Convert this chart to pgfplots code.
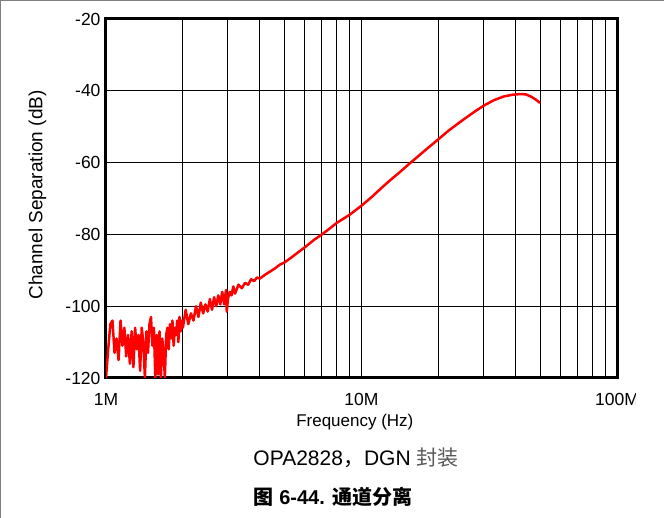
\documentclass[border=0pt]{standalone}
\usepackage{pgfplots}
\pgfplotsset{compat=1.18}
\usepackage{pgfplotstable}
\usepackage{fontspec}
\setmainfont{Liberation Sans}
\newfontfamily\cjk{Noto Sans CJK SC}
\pgfplotstableread{
f db
1.00 -120
1.02 -112
1.04 -105
1.06 -104
1.08 -113
1.10 -109
1.12 -115
1.14 -104
1.16 -111
1.18 -106
1.20 -114
1.22 -108
1.24 -116
1.26 -107
1.28 -117
1.30 -106
1.32 -112
1.34 -108
1.36 -118
1.38 -106
1.40 -110
1.42 -120
1.44 -107
1.46 -113
1.48 -105
1.50 -103
1.52 -111
1.54 -106
1.56 -120
1.58 -108
1.60 -119
1.62 -107
1.64 -120
1.66 -109
1.68 -113
1.70 -120
1.72 -108
1.74 -106
1.76 -112
1.78 -105
1.80 -109
1.82 -104
1.84 -111
1.86 -106
1.88 -108
1.90 -104
1.92 -110
1.94 -103
1.96 -107
1.98 -104
2.00 -106
2.05 -101
2.10 -105
2.15 -102
2.20 -104
2.25 -100
2.30 -103
2.35 -99
2.40 -102
2.45 -99.5
2.50 -101.5
2.55 -98
2.60 -101
2.65 -97.5
2.70 -100
2.75 -97
2.80 -99.5
2.85 -96
2.90 -99.5
2.95 -95.5
2.97 -101.5
3.00 -98
3.05 -96
3.10 -97
3.15 -94.5
3.20 -96.5
3.30 -94
3.40 -95
3.50 -93.5
3.60 -94
3.70 -92.5
3.80 -93
3.90 -92
4.00 -92.3
4.20 -91.2
4.40 -90.3
4.60 -89.4
4.80 -88.4
5.00 -87.8
5.30 -86.5
5.60 -85.2
6.00 -83.6
6.50 -81.6
7.00 -80.0
7.50 -78.4
8.00 -76.8
9.00 -74.5
10.0 -72.0
11.0 -69.5
12.0 -67.0
13.0 -64.8
14.0 -62.9
15.0 -61.0
16.5 -58.5
18.0 -56.2
20.0 -53.5
22.0 -51.0
24.0 -49.0
26.0 -47.2
28.0 -45.6
30.0 -44.2
33.0 -42.6
36.0 -41.6
39.0 -41.1
42.0 -40.9
44.0 -41.0
46.0 -41.6
48.0 -42.4
50.0 -43.4
}\sep
\begin{document}
\begin{tikzpicture}[x=1pt,y=1pt]
\path[use as bounding box] (0,0) rectangle (664,518);
\clip (0,0) rectangle (664,518);
\begin{axis}[
  at={(106pt,140pt)}, anchor=south west,
  scale only axis, width=511pt, height=359pt,
  xmode=log, xmin=1, xmax=100, ymin=-120, ymax=-20,
  xtick={1,10,100}, xticklabels={1M,10M,100M},
  ytick={-120,-100,-80,-60,-40,-20},
  yticklabels={-120,-100,-80,-60,-40,-20},
  grid=both,
  major grid style={black, line width=1pt},
  minor grid style={black, line width=1pt},
  axis line style={black, line width=3pt},
  major tick length=0pt, minor tick length=0pt,
  tick label style={font=\fontsize{17.5}{20}\selectfont},
  xticklabel style={yshift=-12pt},
  yticklabel style={xshift=-2pt},
  label style={font=\fontsize{17}{20}\selectfont},
  xlabel={Frequency (Hz)},
  ylabel={Channel Separation (dB)},
  xlabel style={at={(rel axis cs:0.487,-0.123)}, anchor=center},
  ylabel style={at={(rel axis cs:-0.134,0.51)}, anchor=center, font=\fontsize{19}{22}\selectfont},
]
\addplot[red, line width=2.5pt, line join=round] table[x=f, y=db] {\sep};
\end{axis}
\fill[white] (635.5,100) rectangle (664,136);
\draw[gray, line width=2pt] (0,0) -- (0,518) -- (664,518);
\node[font=\fontsize{21}{24}\selectfont] at (356,60) {OPA2828{\cjk ，}DGN {\cjk\color{black!65} 封装}};
\node[font=\fontsize{20}{24}\selectfont\bfseries] at (333,21) {{\cjk 图} 6-44. {\cjk 通道分离}};
\end{tikzpicture}
\end{document}
